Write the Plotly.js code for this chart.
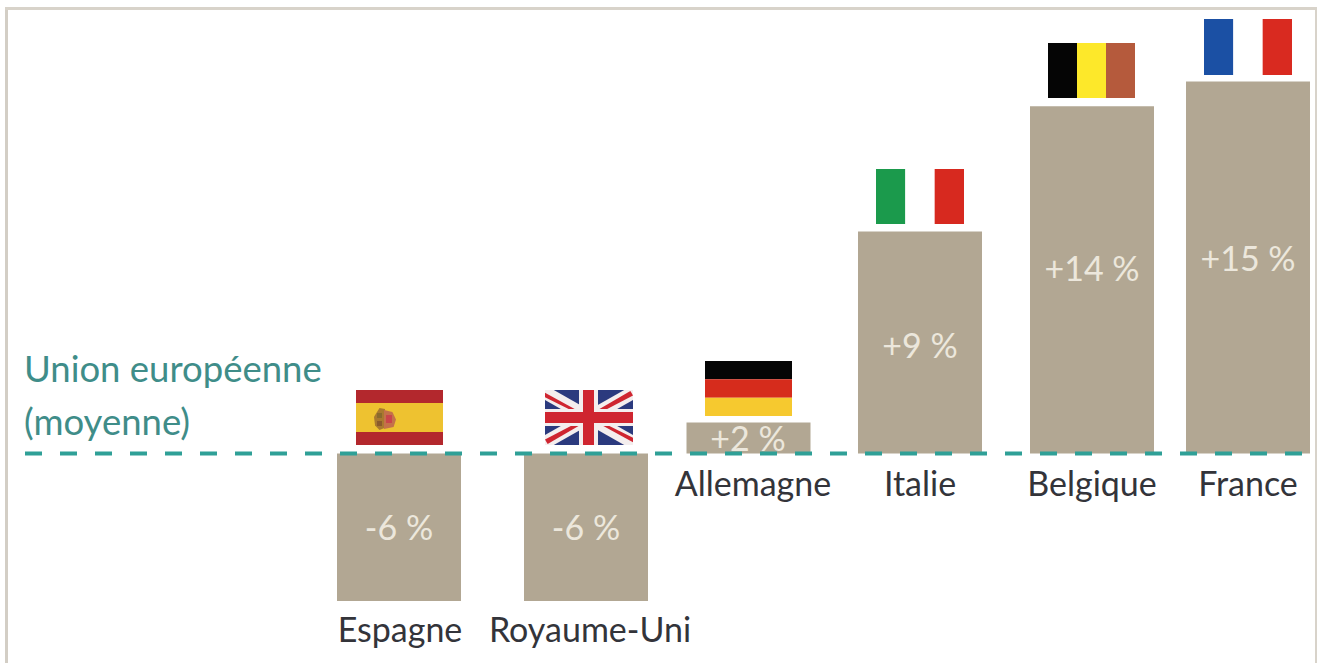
<!DOCTYPE html>
<html><head><meta charset="utf-8">
<script src="https://cdn.plot.ly/plotly-3.0.1.min.js"></script>
<style>html,body{margin:0;padding:0;background:#fff;overflow:hidden}#c{width:1318px;height:663px}</style>
</head><body><div id="c"></div>
<script>
// ---- data ----
const countries = ["Espagne","Royaume-Uni","Allemagne","Italie","Belgique","France"];
const values = [-5.95,-5.95,1.25,8.95,14,15];
const valueLabels = ["-6 %","-6 %","+2 %","+9 %","+14 %","+15 %"];
const euLabel = ["Union européenne","(moyenne)"];

// ---- layout helpers (positions, not data) ----
const W=1318,H=663,BASE=453.5,UNIT=24.8;
const barCenters=[399,586,748.5,920,1092,1248];
const namePos=[[400,633],[590,633],[753,487],[920,487],[1092,487],[1248,487]];
const valuePos=[[399,531],[586,531],[748,442],[920,349],[1092,272],[1248,262]];
const toY=p=>(BASE-p)/UNIT;
const fx=x=>x/W, fy=y=>1-y/H;
const shapes=[];
function rect(x0,y0,x1,y1,c){shapes.push({type:'rect',xref:'paper',yref:'paper',x0:fx(x0),x1:fx(x1),y0:fy(y0),y1:fy(y1),fillcolor:c,line:{width:0},layer:'above'});}
function poly(box,pts,c){const [x0,y0,x1,y1]=box;
  const path=pts.map((p,i)=>(i?'L':'M')+(fx(x0+p[0]*(x1-x0)))+','+(fy(y0+p[1]*(y1-y0)))).join(' ')+' Z';
  shapes.push({type:'path',xref:'paper',yref:'paper',path,fillcolor:c,line:{width:0},layer:'above'});}
function hStripes(b,cs,w){let y=b[1];const tot=w.reduce((a,c)=>a+c,0);cs.forEach((c,i)=>{const h=(b[3]-b[1])*w[i]/tot;rect(b[0],y,b[2],y+h,c);y+=h;});}
function vStripes(b,cs){const s=(b[2]-b[0])/cs.length;cs.forEach((c,i)=>rect(b[0]+i*s,b[1],b[0]+(i+1)*s,b[3],c));}

// frame
rect(5,8,8,663,'#d3cec5');rect(5,7,1317,10,'#d8d3ca');rect(1315,8,1317,663,'#d8d3ca');

// Spain
hStripes([356,390,443,445],['#b3282d','#eec230','#b3282d'],[1,2.2,1]);
poly([374,408,385,430],[[.5,0],[1,.05],[1,.9],[.5,1],[.1,.8],[0,.4]],'#a9792f');
poly([384,410,396,429],[[0,0],[.7,.1],[1,.5],[.8,.9],[0,1]],'#c4714a');
rect(386,415,392,423,'#c9454a');
rect(377,413,382,418,'#8a6a2c');rect(377,421,382,426,'#8a5a2c');
// UK
(function(){const b=[545,390,633,445],n='#2b3a7e',w='#f4eeee',r='#cf2530';
  rect(b[0],b[1],b[2],b[3],n);
  poly(b,[[0,0],[.1,0],[1,.82],[1,1],[.9,1],[0,.18]],w);
  poly(b,[[1,0],[.9,0],[0,.82],[0,1],[.1,1],[1,.18]],w);
  poly(b,[[0,.05],[.42,.42],[.36,.42],[0,.13]],r);
  poly(b,[[1,.95],[.58,.58],[.64,.58],[1,.87]],r);
  poly(b,[[.97,.02],[.58,.38],[.62,.42],[1,.1]],r);
  poly(b,[[.03,.98],[.42,.62],[.38,.58],[0,.9]],r);
  rect(545,409,633,426,w);rect(579,390,598,445,w);
  rect(545,412,633,423,r);rect(583,390,594,445,r);
})();
// Germany
hStripes([705,361,792,416],['#050505','#d62c1c','#f6c92f'],[1,1,1]);
// Italy
vStripes([876,169,964,224],['#1b9a4c','#ffffff','#d7291f']);
// Belgium
vStripes([1048,43,1135,98],['#050505','#fde82a','#b55a3c']);
// France
vStripes([1204,19,1292,75],['#1b50a4','#ffffff','#d92a20']);

const annotations=euLabel.map((t,i)=>({xref:'x',yref:'y',x:22,y:toY([368,421][i]),text:t,showarrow:false,
  xanchor:'left',yanchor:'middle',font:{family:'Lato, "Open Sans", sans-serif',size:36.5,color:'#3f8d89'}}));

const data=[
 {type:'bar',x:barCenters,y:values,width:124,marker:{color:'#b2a793',line:{width:0}},hoverinfo:'skip'},
 {type:'scatter',mode:'lines',x:[25,W],y:[0,0],line:{color:'#2fa097',width:4,dash:'17px,18px'},hoverinfo:'skip'},
 {type:'scatter',mode:'text',x:valuePos.map(p=>p[0]),y:valuePos.map(p=>toY(p[1])),text:valueLabels,textposition:'middle center',
  textfont:{family:'Lato, "Open Sans", sans-serif',size:34,color:'#ece7dc'},hoverinfo:'skip'},
 {type:'scatter',mode:'text',x:namePos.map(p=>p[0]),y:namePos.map(p=>toY(p[1])),text:countries,textposition:'middle center',
  textfont:{family:'Lato, "Open Sans", sans-serif',size:34,color:'#33343a'},hoverinfo:'skip'}
];
const layout={width:W,height:H,margin:{l:0,r:0,t:0,b:0,pad:0},showlegend:false,paper_bgcolor:'#fff',plot_bgcolor:'#fff',
 xaxis:{range:[0,W],visible:false,fixedrange:true},
 yaxis:{range:[toY(H),toY(0)],visible:false,fixedrange:true},
 shapes,annotations};
Plotly.newPlot('c',data,layout,{displayModeBar:false,staticPlot:true});
</script></body></html>
